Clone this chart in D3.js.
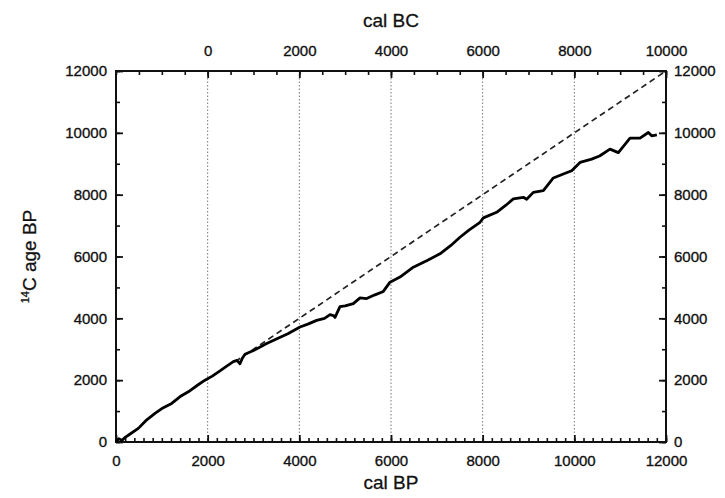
<!DOCTYPE html>
<html>
<head>
<meta charset="utf-8">
<script src="https://cdn.jsdelivr.net/npm/d3@7"></script>
<style>
  html, body { margin: 0; padding: 0; background: #fff; }
  svg { display: block; font-family: "Liberation Sans", Arial, sans-serif; }
</style>
</head>
<body>
<div id="chart"></div>
<script>
// ---- Data ----
const calBP = [0, 60, 130, 200, 300, 487, 650, 851, 1000, 1215, 1400, 1578, 1800, 1942, 2100, 2269, 2400, 2560, 2640, 2705, 2760, 2814, 3000, 3288, 3500, 3750, 4015, 4200, 4378, 4550, 4669, 4742, 4778, 4887, 5000, 5178, 5324, 5469, 5650, 5833, 5978, 6196, 6487, 6800, 7069, 7300, 7505, 7700, 7942, 8015, 8305, 8500, 8669, 8887, 8960, 9105, 9324, 9542, 9760, 9942, 10124, 10378, 10550, 10778, 10960, 11215, 11433, 11615, 11688, 11800];
const c14Age = [0, 110, 50, 150, 250, 441, 690, 925, 1080, 1247, 1470, 1624, 1860, 2000, 2130, 2300, 2440, 2600, 2640, 2530, 2720, 2840, 2960, 3183, 3330, 3500, 3720, 3820, 3935, 4000, 4120, 4090, 4030, 4380, 4400, 4474, 4660, 4640, 4760, 4870, 5171, 5333, 5655, 5880, 6087, 6350, 6623, 6850, 7107, 7250, 7430, 7650, 7862, 7914, 7850, 8075, 8130, 8540, 8668, 8775, 9043, 9150, 9250, 9473, 9360, 9830, 9828, 10010, 9903, 9936];
const identityLine = [[2600, 2600], [12000, 12000]];
const bpTicks = [0, 2000, 4000, 6000, 8000, 10000, 12000];
const bcTicks = [0, 2000, 4000, 6000, 8000, 10000];
const ageTicks = [0, 2000, 4000, 6000, 8000, 10000, 12000];
const gridBP = [2000, 4000, 6000, 8000, 10000];

// ---- Layout ----
const W = 725, H = 498;
const m = { left: 116, right: 59, top: 71, bottom: 56 };
const iw = W - m.left - m.right, ih = H - m.top - m.bottom;

const x = d3.scaleLinear().domain([0, 12000]).range([0, iw]);
const xBC = d3.scaleLinear().domain([-2000, 10000]).range([0, iw]);
const y = d3.scaleLinear().domain([0, 12000]).range([ih, 0]);

const svg = d3.select("#chart").append("svg").attr("width", W).attr("height", H);
const g = svg.append("g").attr("transform", `translate(${m.left},${m.top})`);

// dotted grid
g.selectAll(".grid").data(gridBP).join("line")
  .attr("x1", d => x(d)).attr("x2", d => x(d))
  .attr("y1", 0).attr("y2", ih)
  .attr("stroke", "#777").attr("stroke-width", 1).attr("stroke-dasharray", "1.5,2");

// minor ticks
const minorStyle = sel => sel.call(s => s.select(".domain").remove())
  .call(s => s.selectAll(".tick text").remove())
  .call(s => s.selectAll(".tick line").attr("stroke", "#111").attr("stroke-width", 1.6));

g.append("g").attr("transform", `translate(0,${ih})`)
  .call(d3.axisBottom(x).tickValues(d3.range(0, 12001, 200)).tickSize(-4)).call(minorStyle);
g.append("g")
  .call(d3.axisTop(xBC).tickValues(d3.range(-2000, 10001, 500)).tickSize(-4)).call(minorStyle);
g.append("g")
  .call(d3.axisLeft(y).tickValues(d3.range(0, 12001, 1000)).tickSize(-4)).call(minorStyle);
g.append("g").attr("transform", `translate(${iw},0)`)
  .call(d3.axisRight(y).tickValues(d3.range(0, 12001, 1000)).tickSize(-4)).call(minorStyle);

// major axes
const majorStyle = sel => sel.call(s => s.select(".domain").remove())
  .call(s => s.selectAll(".tick line").attr("stroke", "#111").attr("stroke-width", 1.8))
  .call(s => s.selectAll(".tick text").attr("fill", "#111").attr("font-size", 15)
    .attr("font-family", "'Liberation Sans', Arial, sans-serif").attr("stroke", "#111").attr("stroke-width", 0.35));

g.append("g").attr("transform", `translate(0,${ih})`)
  .call(d3.axisBottom(x).tickValues(bpTicks).tickFormat(d3.format("d")).tickSize(-7).tickPadding(13)).call(majorStyle);
g.append("g")
  .call(d3.axisTop(xBC).tickValues(bcTicks).tickFormat(d3.format("d")).tickSize(-7).tickPadding(15)).call(majorStyle);
g.append("g")
  .call(d3.axisLeft(y).tickValues(ageTicks).tickFormat(d3.format("d")).tickSize(-7).tickPadding(9)).call(majorStyle);
g.append("g").attr("transform", `translate(${iw},0)`)
  .call(d3.axisRight(y).tickValues(ageTicks).tickFormat(d3.format("d")).tickSize(-7).tickPadding(8)).call(majorStyle);

// frame
g.append("rect").attr("width", iw).attr("height", ih)
  .attr("fill", "none").attr("stroke", "#111").attr("stroke-width", 2);

// 1:1 dashed line
g.append("path").datum(identityLine)
  .attr("d", d3.line().x(d => x(d[0])).y(d => y(d[1])))
  .attr("fill", "none").attr("stroke", "#222").attr("stroke-width", 1.7).attr("stroke-dasharray", "6,4");

// calibration curve
const pts = calBP.map((v, i) => [v, c14Age[i]]);
g.append("path").datum(pts)
  .attr("d", d3.line().x(d => x(d[0])).y(d => y(d[1])))
  .attr("fill", "none").attr("stroke", "#000").attr("stroke-width", 2.8).attr("stroke-linejoin", "round");

// titles
const titleStyle = t => t.attr("font-size", 19).attr("fill", "#111").attr("stroke", "#111").attr("stroke-width", 0.3);
svg.append("text").attr("x", m.left + iw / 2).attr("y", 27).attr("text-anchor", "middle")
  .call(titleStyle).text("cal BC");
svg.append("text").attr("x", m.left + iw / 2).attr("y", 489).attr("text-anchor", "middle")
  .call(titleStyle).text("cal BP");
const yt = svg.append("text").attr("transform", `translate(36,${m.top + ih / 2}) rotate(-90)`)
  .attr("text-anchor", "middle").call(titleStyle);
yt.append("tspan").attr("font-size", 11).attr("dy", -7).text("14");
yt.append("tspan").attr("dy", 7).text("C age BP");
</script>
</body>
</html>
